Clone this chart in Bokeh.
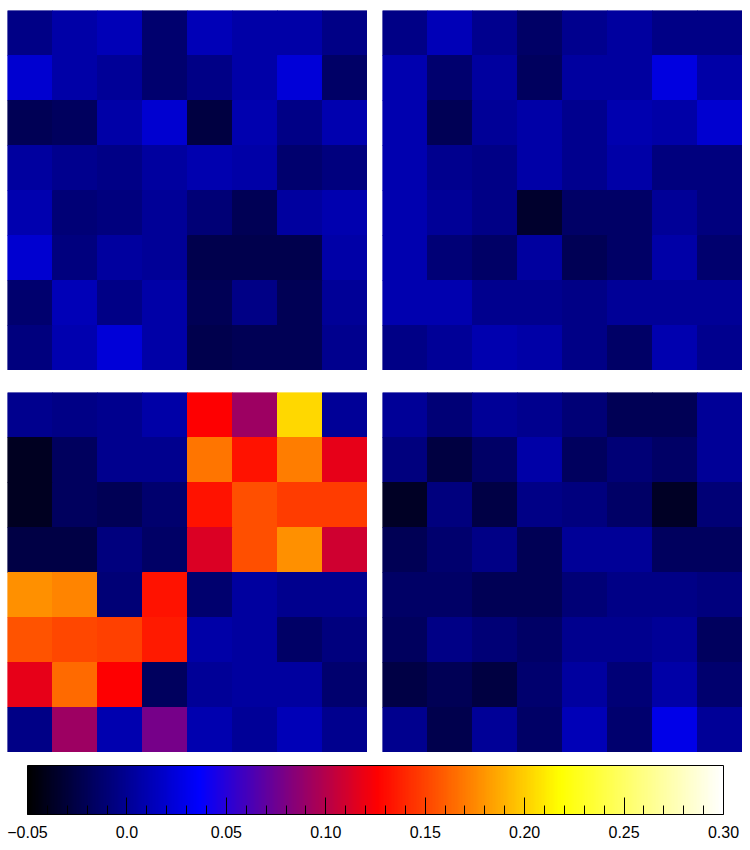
import numpy as np
from bokeh.plotting import figure
from bokeh.layouts import column, row
from bokeh.models import (ColumnDataSource, LinearColorMapper, ColorBar, FixedTicker,
                          CustomJSTickFormatter, Range1d)
from bokeh.embed import file_html
from bokeh.resources import INLINE

# ---------------- data (rows listed top to bottom) ----------------
panel_top_left = [
    [-0.004, 0.007, 0.012, -0.012, 0.012, 0.007, 0.007, -0.004],
    [0.020, 0.007, 0.001, -0.012, -0.004, 0.007, 0.023, -0.015],
    [-0.020, -0.018, 0.007, 0.020, -0.028, 0.009, -0.004, 0.009],
    [0.004, -0.001, -0.004, 0.004, 0.009, 0.007, -0.012, -0.007],
    [0.009, -0.010, -0.007, 0.001, -0.010, -0.020, 0.004, 0.009],
    [0.020, -0.007, 0.004, 0.001, -0.023, -0.023, -0.023, 0.007],
    [-0.012, 0.012, -0.004, 0.007, -0.020, -0.004, -0.020, 0.001],
    [-0.007, 0.009, 0.023, 0.007, -0.023, -0.020, -0.020, -0.001],
]
panel_top_right = [
    [-0.004, 0.012, -0.001, -0.015, -0.001, 0.004, -0.004, -0.004],
    [0.009, -0.012, 0.004, -0.018, 0.004, 0.004, 0.026, 0.007],
    [0.009, -0.020, 0.001, 0.007, -0.001, 0.009, 0.007, 0.020],
    [0.009, -0.001, -0.004, 0.007, -0.001, 0.007, -0.007, -0.007],
    [0.009, 0.001, -0.004, -0.034, -0.015, -0.015, 0.001, -0.007],
    [0.009, -0.010, -0.015, 0.004, -0.020, -0.015, 0.007, -0.012],
    [0.009, 0.009, -0.001, -0.001, -0.004, 0.001, 0.001, 0.001],
    [-0.004, 0.001, 0.009, 0.007, -0.004, -0.015, 0.009, -0.001],
]
panel_bottom_left = [
    [-0.001, -0.004, -0.001, 0.007, 0.126, 0.092, 0.204, 0.001],
    [-0.039, -0.018, -0.001, -0.001, 0.168, 0.133, 0.171, 0.118],
    [-0.039, -0.018, -0.020, -0.012, 0.133, 0.155, 0.148, 0.148],
    [-0.026, -0.026, -0.007, -0.015, 0.114, 0.155, 0.177, 0.109],
    [0.177, 0.174, -0.010, 0.133, -0.012, 0.004, -0.001, -0.001],
    [0.156, 0.151, 0.149, 0.135, 0.007, 0.004, -0.015, -0.007],
    [0.118, 0.164, 0.126, -0.018, 0.001, 0.004, 0.004, -0.012],
    [-0.004, 0.092, 0.009, 0.078, 0.009, 0.001, 0.012, -0.001],
]
panel_bottom_right = [
    [0.001, -0.010, 0.001, -0.001, -0.010, -0.020, -0.020, 0.001],
    [-0.007, -0.028, -0.015, 0.007, -0.018, -0.010, -0.015, 0.001],
    [-0.037, -0.007, -0.026, -0.004, -0.007, -0.015, -0.037, -0.010],
    [-0.020, -0.012, -0.004, -0.020, 0.001, 0.001, -0.018, -0.018],
    [-0.015, -0.015, -0.020, -0.020, -0.010, -0.004, -0.004, -0.007],
    [-0.018, -0.004, -0.010, -0.015, -0.001, -0.001, 0.001, -0.018],
    [-0.026, -0.020, -0.028, -0.012, 0.004, -0.010, 0.007, -0.012],
    [-0.001, -0.023, 0.001, -0.015, 0.012, -0.012, 0.028, 0.001],
]

value_low = -0.05
value_high = 0.30
major_ticks = [-0.05, 0.0, 0.05, 0.10, 0.15, 0.20, 0.25, 0.30]
tick_labels = ["\u22120.05", "0.0", "0.05", "0.10", "0.15", "0.20", "0.25", "0.30"]
minor_ticks = [-0.04, -0.03, -0.02, -0.01, 0.01, 0.02, 0.03, 0.04,
               0.06, 0.07, 0.08, 0.09, 0.11, 0.12, 0.13, 0.14,
               0.16, 0.17, 0.18, 0.19, 0.21, 0.22, 0.23, 0.24,
               0.26, 0.27, 0.28, 0.29]

# ---------------- colour map (black-blue-red-yellow-white) ----------------
stop_pos = [-0.05, 0.036, 0.126, 0.218, 0.30]
stop_r = [0, 0, 255, 255, 255]
stop_g = [0, 0, 0, 255, 255]
stop_b = [0, 255, 0, 0, 255]
grid_v = np.linspace(value_low, value_high, 256)
palette = []
for v in grid_v:
    r = int(round(np.interp(v, stop_pos, stop_r)))
    g = int(round(np.interp(v, stop_pos, stop_g)))
    b = int(round(np.interp(v, stop_pos, stop_b)))
    palette.append("#%02x%02x%02x" % (r, g, b))

mapper = LinearColorMapper(palette=palette, low=value_low, high=value_high)


def heat_panel(values, left_border, top_border):
    xs, ys, vs = [], [], []
    n = len(values)
    for i, rowvals in enumerate(values):
        for j, v in enumerate(rowvals):
            xs.append(j + 0.5)
            ys.append(n - 1 - i + 0.5)
            vs.append(v)
    src = ColumnDataSource(dict(x=xs, y=ys, v=vs))
    p = figure(width=360 + left_border, height=360 + top_border,
               x_range=Range1d(0, 8), y_range=Range1d(0, 8),
               toolbar_location=None, output_backend="svg",
               x_axis_type=None, y_axis_type=None,
               min_border_left=left_border, min_border_right=0, min_border_bottom=0,
               min_border_top=top_border)
    p.outline_line_color = None
    p.grid.visible = False
    p.background_fill_color = "white"
    p.rect(x="x", y="y", width=1, height=1, source=src,
           fill_color={"field": "v", "transform": mapper},
           line_color={"field": "v", "transform": mapper}, line_width=1)
    return p


p_tl = heat_panel(panel_top_left, 7, 10)
p_tr = heat_panel(panel_top_right, 0, 10)
p_bl = heat_panel(panel_bottom_left, 7, 22)
p_br = heat_panel(panel_bottom_right, 0, 22)

# ---------------- colour bar ----------------
pc = figure(width=750, height=95, x_range=Range1d(0, 1), y_range=Range1d(0, 1),
            toolbar_location=None, output_backend="svg",
            x_axis_type=None, y_axis_type=None,
            min_border_left=27, min_border_right=27, min_border_top=13, min_border_bottom=0)
pc.outline_line_color = None
pc.grid.visible = False

formatter = CustomJSTickFormatter(args=dict(major_vals=major_ticks, label_texts=tick_labels), code="""
let best = 0;
for (let i = 0; i < major_vals.length; i++) {
  if (Math.abs(major_vals[i] - tick) < Math.abs(major_vals[best] - tick)) { best = i; }
}
return label_texts[best];
""")

cb = ColorBar(color_mapper=mapper, orientation="horizontal", location="top_left",
              width=696, height=49, padding=0, margin=0,
              ticker=FixedTicker(ticks=major_ticks, minor_ticks=minor_ticks),
              formatter=formatter,
              major_tick_in=17, major_tick_out=0, major_tick_line_color="black",
              major_tick_line_width=1,
              minor_tick_in=9, minor_tick_out=0, minor_tick_line_color="black",
              minor_tick_line_width=1,
              bar_line_color="black", bar_line_width=1,
              border_line_color=None, background_fill_alpha=0,
              label_standoff=11,
              major_label_text_font="Liberation Sans",
              major_label_text_font_size="16px",
              major_label_text_color="black")
pc.add_layout(cb, "center")

layout = column(row(p_tl, p_tr, spacing=15), row(p_bl, p_br, spacing=15), pc, spacing=0)

with open("out.html", "w") as f:
    f.write(file_html(layout, INLINE))
